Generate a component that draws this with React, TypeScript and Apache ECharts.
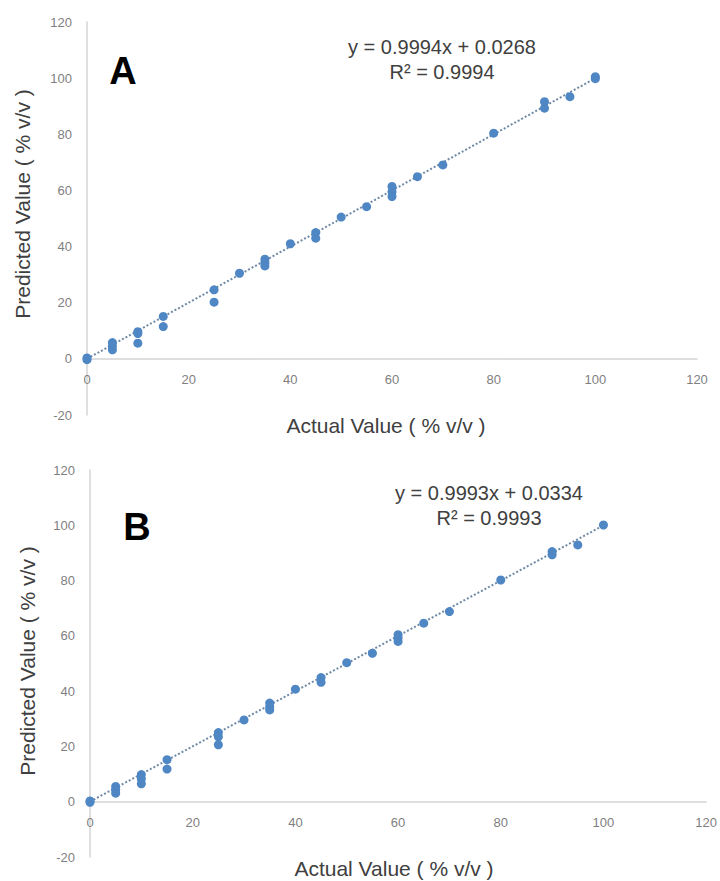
import React, { useEffect, useRef } from "react";
import * as echarts from "echarts";

// Panel A data (Actual vs Predicted, % v/v)
const actualA = [0, 0, 5, 5, 5, 10, 10, 10, 15, 15, 25, 25, 30, 35, 35, 35, 40, 45, 45, 50, 55, 60, 60, 60, 65, 70, 80, 90, 90, 95, 100, 100];
const predictedA = [0.3, -0.3, 5.8, 4.5, 3.2, 9.7, 9.0, 5.6, 15.1, 11.5, 24.6, 20.2, 30.5, 35.5, 34.2, 33.1, 41.0, 45.0, 43.0, 50.5, 54.2, 61.4, 59.5, 57.8, 64.9, 69.1, 80.4, 91.6, 89.3, 93.4, 100.5, 99.8];

// Panel B data
const actualB = [0, 0, 5, 5, 5, 10, 10, 10, 15, 15, 25, 25, 25, 30, 35, 35, 35, 40, 45, 45, 50, 55, 60, 60, 60, 65, 70, 80, 90, 90, 95, 100];
const predictedB = [-0.2, 0.3, 5.5, 4.3, 3.1, 9.8, 8.3, 6.5, 15.2, 11.8, 25.0, 23.5, 20.6, 29.6, 35.7, 34.3, 33.2, 40.7, 44.9, 43.2, 50.3, 53.7, 60.4, 59.2, 58.0, 64.6, 68.8, 80.2, 90.5, 89.3, 92.9, 100.1];

// Trendline coefficients (as labelled on the chart)
const trendA = { slope: 0.9994, intercept: 0.0268, r2: "0.9994", eq: "y = 0.9994x + 0.0268" };
const trendB = { slope: 0.9993, intercept: 0.0334, r2: "0.9993", eq: "y = 0.9993x + 0.0334" };
const trendRange = [0, 100];

const panelLabels = ["A", "B"];
const xTitle = "Actual Value ( % v/v )";
const yTitle = "Predicted Value ( % v/v )";

const X_MIN = 0, X_MAX = 120, X_STEP = 20;
const Y_MIN = -20, Y_MAX = 120, Y_STEP = 20;

const FONT = "Liberation Sans, Arial, sans-serif";
const DOT = "#4f86c4";
const AXIS = "#d4d4d4";
const LABEL = "#7f7f7f";
const DARK = "#404040";

export default function App() {
  const ref = useRef<HTMLDivElement>(null);

  useEffect(() => {
    if (!ref.current) return;
    const chart = echarts.init(ref.current, undefined, { renderer: "svg" });

    const grids = [
      { left: 87, top: 22, width: 610, height: 393 },
      { left: 90, top: 470, width: 621, height: 387 },
    ];

    // place the x axis where y = 0 (Excel-style crossing)
    const zeroOffset = (h: number) => -h * (0 - Y_MIN) / (Y_MAX - Y_MIN);

    const mkX = (i: number) => ({
      type: "value",
      gridIndex: i,
      min: X_MIN,
      max: X_MAX,
      interval: X_STEP,
      offset: zeroOffset(grids[i].height),
      splitLine: { show: false },
      axisTick: { show: false },
      axisLine: { show: true, onZero: false, lineStyle: { color: AXIS, width: 1.5 } },
      axisLabel: { color: LABEL, fontSize: 13, fontFamily: FONT, margin: 14 },
    });
    const mkY = (i: number) => ({
      type: "value",
      gridIndex: i,
      min: Y_MIN,
      max: Y_MAX,
      interval: Y_STEP,
      splitLine: { show: false },
      axisTick: { show: false },
      axisLine: { show: true, onZero: false, lineStyle: { color: AXIS, width: 1.5 } },
      axisLabel: { color: LABEL, fontSize: 13, fontFamily: FONT, margin: 15 },
    });

    const trendSeries = (t: typeof trendA, i: number) => ({
      type: "line",
      xAxisIndex: i,
      yAxisIndex: i,
      symbol: "none",
      silent: true,
      z: 1,
      lineStyle: { type: "dotted", color: "#6f8aa6", width: 2 },
      data: trendRange.map((x) => [x, t.slope * x + t.intercept]),
    });
    const scatterSeries = (xs: number[], ys: number[], i: number) => ({
      type: "scatter",
      xAxisIndex: i,
      yAxisIndex: i,
      symbolSize: 9,
      z: 2,
      itemStyle: { color: DOT, opacity: 1 },
      data: xs.map((x, k) => [x, ys[k]]),
    });

    const txt = (text: string, x: number, y: number, fontSize: number, extra: any = {}) => ({
      type: "text",
      x,
      y,
      ...extra,
      style: {
        text,
        fontSize,
        fontFamily: FONT,
        fill: DARK,
        align: "center",
        verticalAlign: "middle",
        ...(extra.style || {}),
      },
    });

    chart.setOption({
      animation: false,
      backgroundColor: "#ffffff",
      grid: grids,
      xAxis: [mkX(0), mkX(1)],
      yAxis: [mkY(0), mkY(1)],
      series: [
        trendSeries(trendA, 0),
        scatterSeries(actualA, predictedA, 0),
        trendSeries(trendB, 1),
        scatterSeries(actualB, predictedB, 1),
      ],
      graphic: [
        txt(panelLabels[0], 123, 71, 38, { style: { fontWeight: "bold", fill: "#000" } }),
        txt(panelLabels[1], 137, 527, 38, { style: { fontWeight: "bold", fill: "#000" } }),
        txt(trendA.eq, 442, 47, 20),
        txt("R² = " + trendA.r2, 442, 72, 20),
        txt(trendB.eq, 489, 493, 20),
        txt("R² = " + trendB.r2, 489, 518, 20),
        txt(xTitle, 386, 425, 21),
        txt(xTitle, 394, 868, 21),
        txt(yTitle, 22, 204, 21, { rotation: Math.PI / 2 }),
        txt(yTitle, 27, 661, 21, { rotation: Math.PI / 2 }),
      ],
    });

    return () => chart.dispose();
  }, []);

  return (
    <div
      ref={ref}
      style={{ position: "absolute", left: 0, top: 0, width: 720, height: 881, background: "#fff" }}
    />
  );
}
